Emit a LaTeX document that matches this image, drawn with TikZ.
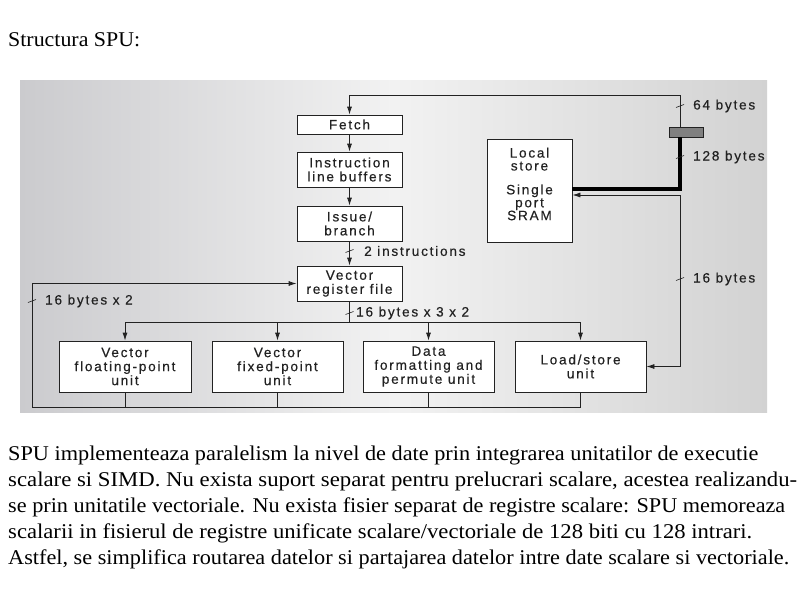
\documentclass[tikz,border=0pt]{standalone}
\usepackage{fontspec}
\setmainfont{Liberation Serif}
\newfontfamily\dsf[LetterSpace=13,FakeBold=0.4]{Liberation Sans}
\usetikzlibrary{arrows.meta,calc}
\definecolor{bgl}{RGB}{203,203,206}
\definecolor{bgm}{RGB}{242,242,242}
\definecolor{bgr}{RGB}{210,210,210}
\definecolor{ink}{RGB}{34,34,34}
\begin{document}
\begin{tikzpicture}[x=1pt,y=-1pt,
  box/.style={draw=ink, fill=white, line width=0.8pt, font=\dsf\fontsize{13.6}{14}\selectfont, align=center, inner sep=0pt, text=ink},
  conn/.style={draw=ink, line width=0.8pt},
  arr/.style={conn, -{Latex[length=8pt,width=5pt]}},
  darr/.style={conn, {Latex[length=8pt,width=5pt]}-{Latex[length=8pt,width=5pt]}},
  lbl/.style={font=\dsf\fontsize{13.6}{14}\selectfont, text=ink, anchor=west, inner sep=0pt},
  tk/.style={draw=ink, line width=0.6pt},
  body/.style={anchor=base west, inner sep=0pt, font=\fontsize{21}{24}\selectfont}
]
\useasboundingbox (0,0) rectangle (800,600);
\fill[white] (0,0) rectangle (800,600);
\shade[left color=bgl, right color=bgr, middle color=bgm] (20,80) rectangle (767,412);

% title
\node[body] (title) at (8,46) {\resizebox{132pt}{\height}{Structura SPU:}};

% boxes
\node[box, minimum width=105pt, minimum height=19pt] (fetch) at (349.5,124.5) {Fetch};
\node[box, minimum width=105pt, minimum height=35pt] (ilb) at (349.5,169.5) {Instruction\\line buffers};
\node[box, minimum width=105pt, minimum height=35pt] (issue) at (349.5,223.5) {Issue/\\branch};
\node[box, minimum width=105pt, minimum height=35pt] (vrf) at (349.5,283.5) {Vector\\register file};
\node[box, minimum width=85pt, minimum height=103pt] (ls) at (529.5,190.5) {};
\node[box, draw=none, fill=none, font=\dsf\fontsize{13.6}{12.9}\selectfont] (lstext) at ([yshift=6.5pt]ls.center) {Local\\store\\[11pt]Single\\port\\SRAM};
\node[draw=ink, fill=black!50, line width=0.8pt, minimum width=34pt, minimum height=10pt, inner sep=0pt] (buf) at (686,132) {};

\node[box, minimum width=132pt, minimum height=51pt] (vfp) at (125,366.5) {Vector\\floating-point\\unit};
\node[box, minimum width=131pt, minimum height=51pt] (vfx) at (277.5,366.5) {Vector\\fixed-point\\unit};
\node[box, minimum width=131pt, minimum height=51pt] (dfp) at (428.5,366.5) {Data\\formatting and\\permute unit};
\node[box, minimum width=131pt, minimum height=51pt] (lsu) at (580.5,366.5) {Load/store\\unit};

% top path
\draw[arr] ([xshift=-6pt]buf.north) -- ++(0,-31) -| (fetch.north);
\draw[arr] (fetch) -- (ilb);
\draw[arr] (ilb) -- (issue);
\draw[arr] (issue) -- (vrf);

% thick path
\draw[draw=black, line width=4pt] ([xshift=-6pt]buf.south) |- ([yshift=1.5pt]ls.east);
% local store <-> load/store
\draw[darr] ([yshift=-4.5pt]ls.east) -- ++(108,0) |- (lsu.east);

% distribution bus
\coordinate (bus) at (0,322);
\draw[conn] (vrf.south) -- (vrf.south |- bus);
\draw[conn] (vfp.north |- bus) -- (lsu.north |- bus);
\draw[arr] (vfp.north |- bus) -- (vfp.north);
\draw[arr] (vfx.north |- bus) -- (vfx.north);
\draw[arr] (dfp.north |- bus) -- (dfp.north);
\draw[arr] (lsu.north |- bus) -- (lsu.north);

% result bus
\coordinate (bl) at (32,407);
\draw[conn] (lsu.south) |- (bl);
\draw[conn] (vfp.south) -- (vfp.south |- bl);
\draw[conn] (vfx.south) -- (vfx.south |- bl);
\draw[conn] (dfp.south) -- (dfp.south |- bl);
\draw[arr] (bl) |- (vrf.west);

% ticks and labels
\draw[tk] (676,107.5) -- (684,104.5);
\node[lbl] (l64) at (693,106) {64 bytes};
\draw[tk] (676,158.5) -- (684,155.5);
\node[lbl] (l128) at (693,157) {128 bytes};
\draw[tk] (676,280.5) -- (684,277.5);
\node[lbl] (l16) at (693,279) {16 bytes};
\draw[tk] (345.5,252.5) -- (353.5,249.5);
\node[lbl] (l2i) at (364,251) {2 instructions};
\draw[tk] (345.5,314.5) -- (353.5,311.5);
\node[lbl] (l16x3) at (356,313) {16 bytes x 3 x 2};
\draw[tk] (28,302.5) -- (36,299.5);
\node[lbl] (l16x2) at (45,301) {16 bytes x 2};

% body text
\node[body] (p1) at (8,460) {\resizebox{750pt}{\height}{SPU implementeaza paralelism la nivel de date prin integrarea unitatilor de executie}};
\node[body] (p2) at (8,486) {\resizebox{789pt}{\height}{scalare si SIMD. Nu exista suport separat pentru prelucrari scalare, acestea realizandu-}};
\node[body] (p3) at (8,512) {\resizebox{777pt}{\height}{se prin unitatile vectoriale. Nu exista fisier separat de registre scalare: SPU memoreaza}};
\node[body] (p4) at (8,538) {\resizebox{744pt}{\height}{scalarii in fisierul de registre unificate scalare/vectoriale de 128 biti cu 128 intrari.}};
\node[body] (p5) at (8,564) {\resizebox{781pt}{\height}{Astfel, se simplifica routarea datelor si partajarea datelor intre date scalare si vectoriale.}};
\end{tikzpicture}
\end{document}
